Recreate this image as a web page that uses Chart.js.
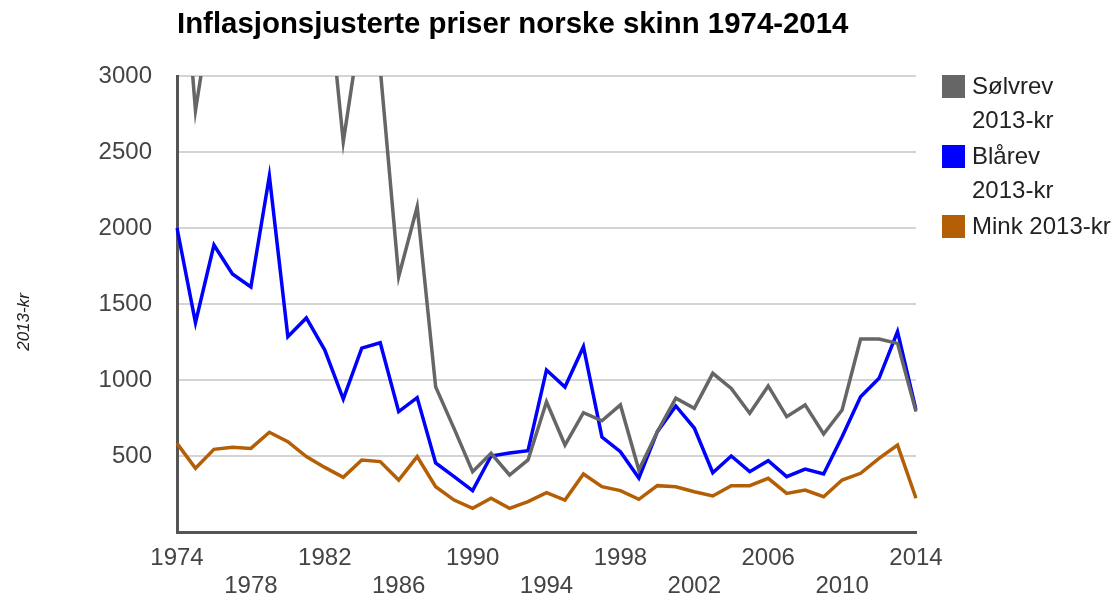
<!DOCTYPE html>
<html>
<head>
<meta charset="utf-8">
<script src="https://cdn.jsdelivr.net/npm/chart.js@4"></script>
<style>
  body { margin: 0; background: #fff; font-family: "Liberation Sans", Arial, sans-serif; }
  #wrap { position: relative; width: 1118px; height: 600px; }
  #title { position: absolute; left: 177px; top: 6px; font-size: 29.4px; font-weight: bold; color: #000; white-space: nowrap; }
  #legend { position: absolute; left: 942px; top: 0; }
  .item { position: absolute; left: 0; white-space: nowrap; }
  .sw { position: absolute; left: 0; width: 23px; height: 23px; }
  .txt { position: absolute; left: 30px; font-size: 24px; line-height: 34px; color: #222; }
</style>
</head>
<body>
<div id="wrap">
  <canvas id="myChart" width="1118" height="600"></canvas>
  <div id="title">Inflasjonsjusterte priser norske skinn 1974-2014</div>
  <div id="legend"></div>
</div>
<script>
const years = [];
for (let y = 1974; y <= 2014; y++) years.push(y);

const seriesNames = ['Sølvrev 2013-kr', 'Blårev 2013-kr', 'Mink 2013-kr'];
const seriesColors = ['#666666', '#0000ff', '#b45f06'];

// values above 3000 are clipped off the top of the chart
const solvrev = [4300, 2772, 3550, 3600, 3500, 4200, 3800, 3400, 3780, 2568,
  3370, 3050, 1680, 2140, 955, 680, 397, 518, 375, 474,
  857, 572, 785, 732, 836, 408, 660, 880, 814, 1044,
  945, 781, 961, 759, 836, 645, 803, 1270, 1270, 1241, 792];
const blarev = [2000, 1377, 1888, 1697, 1612, 2342, 1285, 1408, 1197, 875,
  1210, 1245, 792, 884, 454, 364, 272, 500, 520, 535,
  1066, 954, 1219, 625, 528, 355, 660, 829, 684, 390,
  500, 397, 469, 364, 414, 382, 627, 890, 1011, 1318, 803];
const mink = [583, 419, 544, 557, 550, 656, 594, 496, 425, 360,
  474, 463, 342, 496, 298, 210, 156, 222, 156, 200,
  259, 210, 382, 298, 272, 215, 305, 298, 265, 237,
  305, 305, 353, 254, 276, 232, 342, 386, 485, 572, 222];

const yTicks = [0, 500, 1000, 1500, 2000, 2500, 3000];

// legend with wrapped text like the original
const legendLines = [['Sølvrev', '2013-kr'], ['Blårev', '2013-kr'], ['Mink 2013-kr']];
const legendTops = [75, 145, 215];
const legend = document.getElementById('legend');
legendLines.forEach((lines, i) => {
  const it = document.createElement('div');
  it.className = 'item';
  it.style.top = legendTops[i] + 'px';
  it.innerHTML = '<div class="sw" style="background:' + seriesColors[i] + '"></div>' +
    '<div class="txt" style="top:-6px">' + lines.join('<br>') + '</div>';
  legend.appendChild(it);
});

const yTitle = {
  id: 'yTitle',
  afterDraw(chart) {
    const ctx = chart.ctx;
    ctx.save();
    ctx.translate(24, 322);
    ctx.rotate(-Math.PI / 2);
    ctx.font = 'italic 17px "Liberation Sans", Arial, sans-serif';
    ctx.fillStyle = '#222';
    ctx.textAlign = 'center';
    ctx.textBaseline = 'middle';
    ctx.fillText('2013-kr', 0, 0);
    ctx.restore();
  }
};

const tickFont = { family: '"Liberation Sans", Arial, sans-serif', size: 24, lineHeight: 1.17 };

new Chart(document.getElementById('myChart').getContext('2d'), {
  type: 'line',
  data: {
    labels: years,
    datasets: [solvrev, blarev, mink].map((d, i) => ({
      label: seriesNames[i],
      data: d,
      borderColor: seriesColors[i],
      backgroundColor: seriesColors[i],
      borderWidth: 3.5,
      pointRadius: 0,
      tension: 0
    }))
  },
  options: {
    responsive: false,
    animation: false,
    layout: { padding: { left: 0, top: 76, right: 202, bottom: 0 } },
    plugins: { legend: { display: false }, tooltip: { enabled: false } },
    scales: {
      x: {
        offset: false,
        grid: { display: false, drawTicks: false },
        border: { display: true, color: '#555', width: 3 },
        afterFit: s => { s.height = 68; },
        ticks: {
          autoSkip: false,
          maxRotation: 0,
          padding: 12,
          color: '#444',
          font: tickFont,
          callback: function (value, index) {
            const y = years[index];
            if ((y - 1974) % 8 === 0) return [String(y), ''];
            if ((y - 1974) % 8 === 4) return ['', String(y)];
            return null;
          }
        }
      },
      y: {
        min: 0,
        max: 3000,
        afterFit: s => { s.width = 177; },
        afterBuildTicks: s => { s.ticks = yTicks.map(v => ({ value: v })); },
        grid: { color: '#d4d4d4', lineWidth: 2, drawTicks: false },
        border: { display: true, color: '#555', width: 3 },
        ticks: {
          padding: 25,
          color: '#444',
          font: tickFont,
          callback: v => v === 0 ? '' : String(v)
        }
      }
    }
  },
  plugins: [yTitle]
});
</script>
</body>
</html>
